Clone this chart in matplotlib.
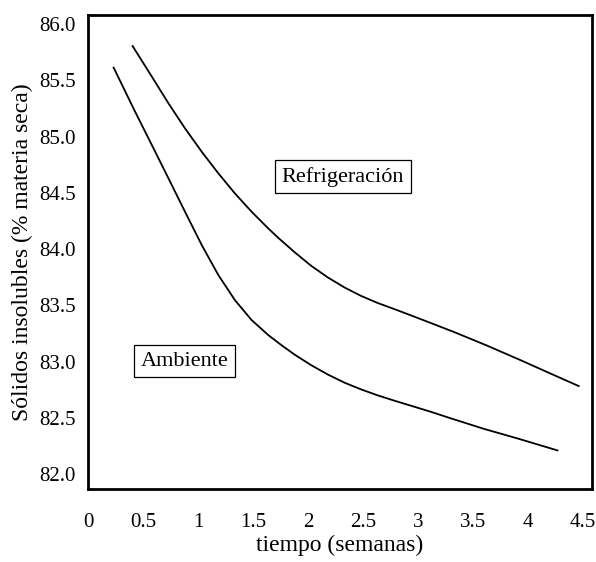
import matplotlib
matplotlib.use("Agg")
import matplotlib.pyplot as plt

# valores (semanas, % materia seca)
amb_t = [0.233, 0.428, 0.580, 0.731, 0.881, 1.033, 1.184, 1.334, 1.486, 1.637,
         1.757, 1.878, 2.029, 2.180, 2.331, 2.482, 2.633, 2.784, 2.935, 3.116,
         3.297, 3.596, 3.904, 4.266]
amb_s = [85.612, 85.220, 84.924, 84.628, 84.332, 84.036, 83.769, 83.547, 83.369, 83.236,
         83.146, 83.061, 82.967, 82.884, 82.812, 82.752, 82.699, 82.652, 82.607, 82.553,
         82.495, 82.402, 82.316, 82.210]

ref_t = [0.405, 0.580, 0.731, 0.881, 1.033, 1.184, 1.334, 1.486, 1.637, 1.727,
         1.878, 2.029, 2.180, 2.331, 2.482, 2.633, 2.784, 2.935, 3.116, 3.327,
         3.630, 3.931, 4.233, 4.459]
ref_s = [85.804, 85.532, 85.295, 85.073, 84.865, 84.673, 84.495, 84.332, 84.184, 84.101,
         83.971, 83.850, 83.747, 83.658, 83.583, 83.520, 83.466, 83.410, 83.342, 83.262,
         83.140, 83.012, 82.880, 82.782]

x_ticks = [0, 0.5, 1, 1.5, 2, 2.5, 3, 3.5, 4, 4.5]
x_labels = ["0", "0.5", "1", "1.5", "2", "2.5", "3", "3.5", "4", "4.5"]
y_ticks = [82.0, 82.5, 83.0, 83.5, 84.0, 84.5, 85.0, 85.5, 86.0]

plt.rcParams["font.family"] = ["Liberation Serif", "DejaVu Serif"]

fig = plt.figure(figsize=(5.96, 5.62), dpi=100)
ax = fig.add_axes([0.1477, 0.1299, 0.8456, 0.8434])

ax.plot(amb_t, amb_s, color="black", lw=1.3, solid_joinstyle="round")
ax.plot(ref_t, ref_s, color="black", lw=1.3, solid_joinstyle="round")

ax.set_xlim(0.018, 4.58)
ax.set_ylim(81.867, 86.08)
ax.set_xticks(x_ticks)
ax.set_xticklabels(x_labels)
ax.set_yticks(y_ticks)
ax.set_yticklabels([f"{v:.1f}" for v in y_ticks])
ax.tick_params(length=0, labelsize=15)
ax.tick_params(axis="y", pad=9)
ax.tick_params(axis="x", pad=17)

for s in ax.spines.values():
    s.set_linewidth(2.0)

ax.set_xlabel("tiempo (semanas)", fontsize=17, labelpad=2)
ax.set_ylabel("Sólidos insolubles (% materia seca)", fontsize=17, labelpad=4)

box = dict(boxstyle="square,pad=0.3", facecolor="white", edgecolor="black", lw=0.9)
ax.text(2.314, 84.644, "Refrigeración", fontsize=16, ha="center", va="center", bbox=box)
ax.text(0.874, 83.004, "Ambiente", fontsize=16, ha="center", va="center", bbox=box)

fig.savefig("out.png", dpi=100)
